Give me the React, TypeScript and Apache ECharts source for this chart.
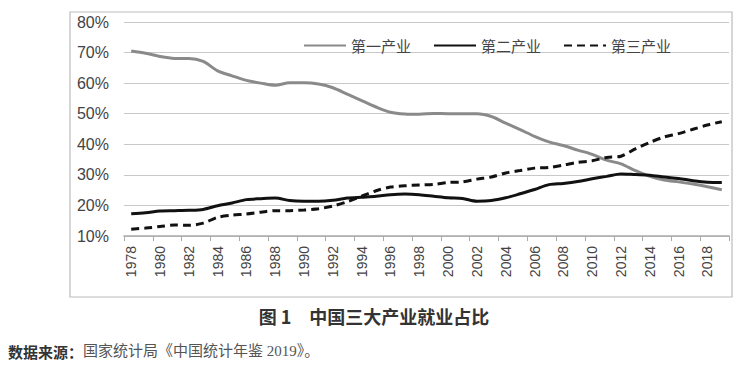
import React, { useEffect, useRef } from "react";
import * as echarts from "echarts";

const years: string[] = [];
for (let y = 1978; y <= 2019; y++) years.push(String(y));

const primary = [70.5, 69.8, 68.7, 68.1, 68.1, 67.1, 64.0, 62.4, 60.9, 60.0, 59.3, 60.1, 60.1, 59.7, 58.5, 56.4, 54.3, 52.2, 50.5, 49.9, 49.8, 50.1, 50.0, 50.0, 50.0, 49.1, 46.9, 44.8, 42.6, 40.8, 39.6, 38.1, 36.7, 34.8, 33.6, 31.4, 29.5, 28.3, 27.7, 27.0, 26.1, 25.1];
const secondary = [17.3, 17.6, 18.2, 18.3, 18.4, 18.7, 19.9, 20.8, 21.9, 22.2, 22.4, 21.6, 21.4, 21.4, 21.7, 22.4, 22.7, 23.0, 23.5, 23.7, 23.5, 23.0, 22.5, 22.3, 21.4, 21.6, 22.5, 23.8, 25.2, 26.8, 27.2, 27.8, 28.7, 29.5, 30.3, 30.1, 29.9, 29.3, 28.8, 28.1, 27.6, 27.5];
const tertiary = [12.2, 12.6, 13.1, 13.6, 13.5, 14.2, 16.1, 16.8, 17.2, 17.8, 18.3, 18.3, 18.5, 18.9, 19.8, 21.2, 23.0, 24.8, 26.0, 26.4, 26.7, 26.9, 27.5, 27.7, 28.6, 29.3, 30.6, 31.4, 32.2, 32.4, 33.2, 34.1, 34.6, 35.7, 36.1, 38.5, 40.6, 42.4, 43.5, 44.9, 46.3, 47.4];

const seriesNames = ["第一产业", "第二产业", "第三产业"];
const caption = "图 1　中国三大产业就业占比";
const sourceLabel = "数据来源：";
const sourceText = "国家统计局《中国统计年鉴 2019》。";

export default function App() {
  const ref = useRef<HTMLDivElement>(null);
  useEffect(() => {
    if (!ref.current) return;
    const chart = echarts.init(ref.current, undefined, { renderer: "svg" });
    const sans = "'Liberation Sans', Arial, 'Noto Sans CJK SC', sans-serif";
    const cjk = "'Noto Sans CJK SC', sans-serif";
    chart.setOption({
      animation: false,
      backgroundColor: "#fff",
      grid: { left: 124, right: 19, top: 22, bottom: 131, containLabel: false },
      legend: {
        left: 298,
        top: 33,
        itemWidth: 42,
        itemHeight: 14,
        itemGap: 22,
        itemStyle: { opacity: 0 },
        textStyle: { fontFamily: cjk, fontSize: 15, color: "#444" },
        data: seriesNames,
      },
      xAxis: {
        type: "category",
        data: years,
        boundaryGap: true,
        axisLine: { lineStyle: { color: "#aaa", width: 1.5 } },
        axisTick: { show: true, interval: 1, length: 5, lineStyle: { color: "#aaa" } },
        axisLabel: {
          interval: 1,
          rotate: 90,
          margin: 10,
          fontFamily: sans,
          fontSize: 14,
          color: "#444",
        },
      },
      yAxis: {
        type: "value",
        min: 10,
        max: 80,
        interval: 10,
        axisLine: { show: false },
        axisTick: { show: false },
        axisLabel: {
          formatter: "{value}%",
          margin: 15,
          fontFamily: sans,
          fontSize: 16,
          color: "#444",
        },
        splitLine: { lineStyle: { color: "#c8c8c8", width: 1.2 } },
      },
      series: [
        {
          name: seriesNames[0],
          type: "line",
          data: primary,
          smooth: 0.3,
          symbol: "none",
          lineStyle: { color: "#8a8a8a", width: 3 },
          itemStyle: { color: "#8a8a8a" },
        },
        {
          name: seriesNames[1],
          type: "line",
          data: secondary,
          smooth: 0.3,
          symbol: "none",
          lineStyle: { color: "#111", width: 3 },
          itemStyle: { color: "#111" },
        },
        {
          name: seriesNames[2],
          type: "line",
          data: tertiary,
          smooth: 0.3,
          symbol: "none",
          lineStyle: { color: "#111", width: 3, type: [8, 5] },
          itemStyle: { color: "#111" },
        },
      ],
      graphic: [
        {
          type: "rect",
          silent: true,
          shape: { x: 70, y: 12, width: 662, height: 285 },
          style: { fill: "none", stroke: "#bbb", lineWidth: 1.2 },
        },
        {
          type: "text",
          x: 374,
          y: 316,
          style: {
            text: caption,
            fontFamily: cjk,
            fontSize: 18,
            fontWeight: "bold",
            fill: "#333",
            align: "center",
            verticalAlign: "middle",
          },
        },
        {
          type: "text",
          x: 8,
          y: 351,
          style: {
            text: "{b|" + sourceLabel + "}{n|" + sourceText + "}",
            verticalAlign: "middle",
            rich: {
              b: { fontFamily: cjk, fontSize: 15, fontWeight: "bold", fill: "#333" },
              n: { fontFamily: "'Liberation Serif', 'Noto Sans CJK SC', serif", fontSize: 15, fill: "#555" },
            },
          },
        },
      ],
    });
    return () => chart.dispose();
  }, []);
  return (
    <div
      ref={ref}
      style={{ position: "fixed", left: 0, top: 0, width: 748, height: 367 }}
    />
  );
}
